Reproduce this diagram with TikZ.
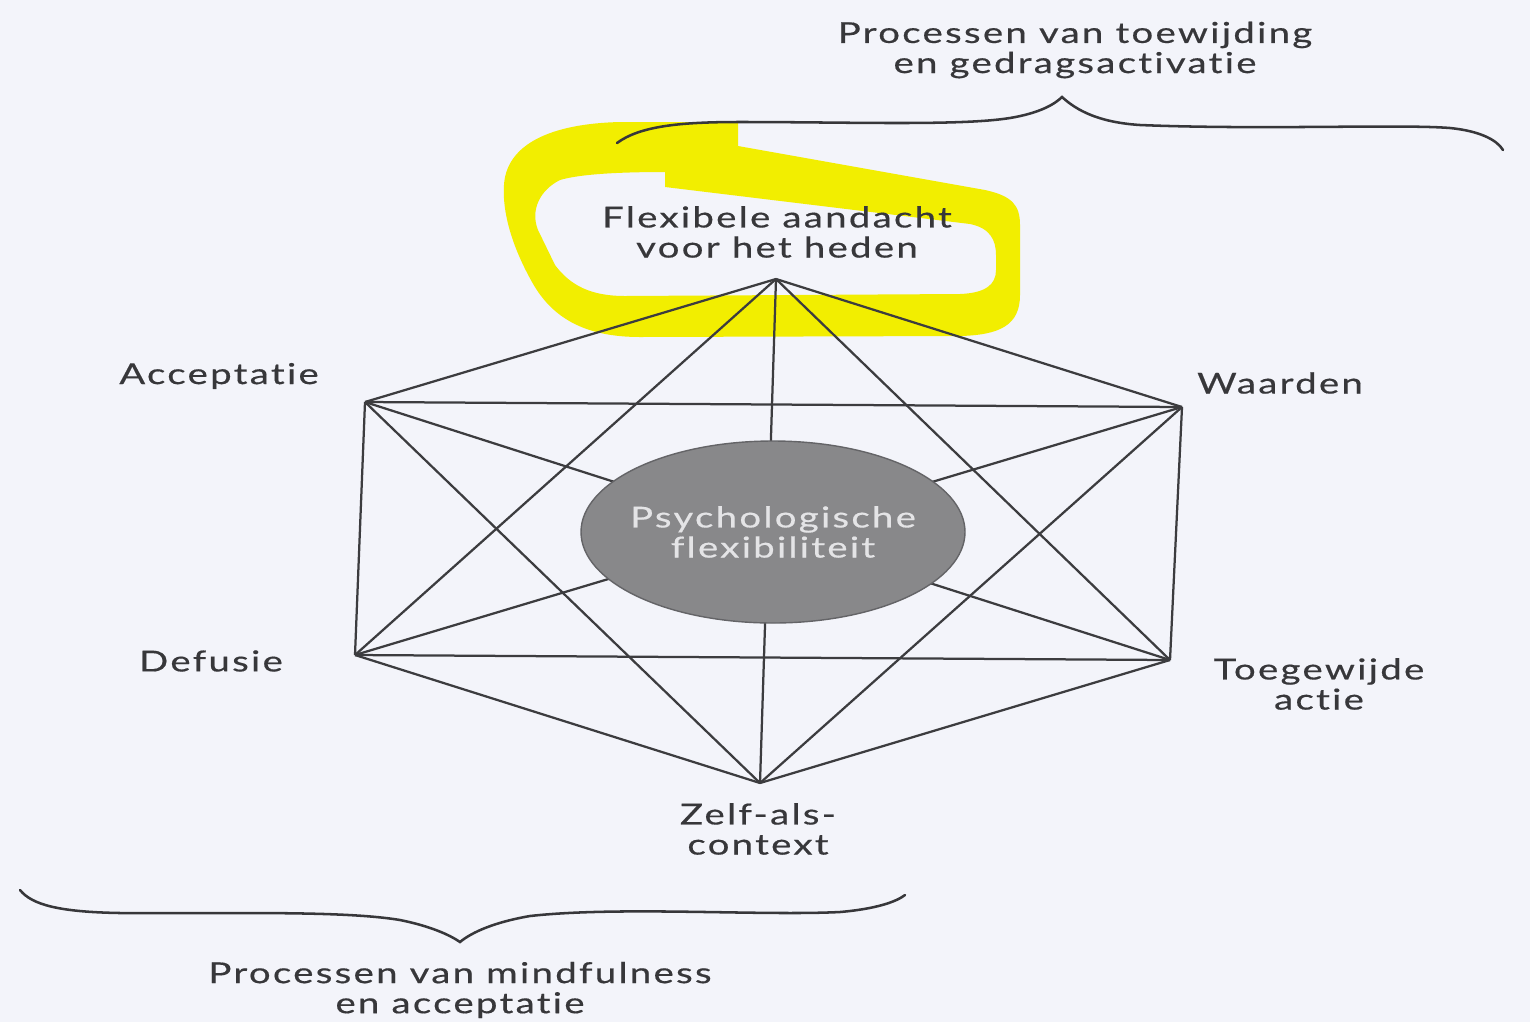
\documentclass[tikz,border=0pt]{standalone}
\usepackage{fontspec}
\setmainfont{Lato}[FakeStretch=1.33,LetterSpace=8,FakeBold=0.5,Ligatures={NoCommon}]
\definecolor{paper}{RGB}{243,244,250}
\definecolor{inkc}{RGB}{55,55,58}
\definecolor{linec}{RGB}{60,60,63}
\definecolor{hilite}{RGB}{242,238,0}
\definecolor{corefill}{RGB}{136,136,138}
\definecolor{coreline}{RGB}{100,100,103}
\definecolor{coretext}{RGB}{228,228,230}
\begin{document}
\begin{tikzpicture}[x=0.025cm,y=-0.025cm,
  lbl/.style={font=\fontsize{20.5pt}{21.4pt}\selectfont, text=inkc, align=center, inner sep=0pt},
  edge/.style={draw=linec, line width=1.6pt},
  brace/.style={draw=inkc, line width=1.8pt, line cap=round}]

% page
\fill[paper] (0,0) rectangle (1530,1022);
\useasboundingbox (0,0) rectangle (1530,1022);

% highlighter loop round the top label (outer rim, then the hole)
\fill[hilite, even odd rule]
  (738,122) -- (738,146) -- (985,190) .. controls (1012,196) and (1020,205) .. (1020,225)
  -- (1020,295) .. controls (1020,325) and (1000,335) .. (960,336) -- (640,337)
  .. controls (585,337) and (552,318) .. (532,282) .. controls (514,250) and (502,215) .. (504,185)
  .. controls (506,150) and (540,124) .. (620,122) -- cycle
  (665,172) -- (665,187) -- (970,224) .. controls (990,228) and (996,240) .. (996,255)
  -- (996,270) .. controls (996,285) and (985,293) .. (960,294) -- (625,296)
  .. controls (590,296) and (570,285) .. (555,265) -- (538,230)
  .. controls (530,210) and (540,190) .. (560,180) .. controls (580,174) and (620,172) .. (665,172) -- cycle;

% hexagon corners
\coordinate (T)  at (776,279);
\coordinate (UL) at (365,402);
\coordinate (UR) at (1182,407);
\coordinate (LL) at (355,655);
\coordinate (LR) at (1170,660);
\coordinate (B)  at (760,783);

% every corner joined to every other
\foreach \a/\b in {T/UL,T/UR,T/LL,T/LR,T/B,UL/UR,UL/LL,UL/LR,UL/B,UR/LL,UR/LR,UR/B,LL/LR,LL/B,LR/B}
  \draw[edge] (\a) -- (\b);

% centre disc and its words
\path[fill=corefill, draw=coreline, line width=1pt] (773,532) ellipse [x radius=192, y radius=91];
\node[font=\fontsize{20.5pt}{21.4pt}\selectfont, text=coretext, align=center, inner sep=0pt]
  (core) at (773,532) {Psychologische\\flexibiliteit};

% labels
\node[lbl] (heden) at (777,232) {Flexibele aandacht\\voor het heden};
\node[lbl] (accept) at (219,376) {Acceptatie};
\node[lbl] (waarden) at (1280,383) {Waarden};
\node[lbl] (defusie) at (211,661) {Defusie};
\node[lbl] (actie) at (1319,684) {Toegewijde\\actie};
\node[lbl] (zelf) at (758,829) {Zelf-als-\\context};
\node[lbl] (toew) at (1075,50) {Processen van toewijding\\en gedragsactivatie};
\node[lbl] (mind) at (460,990) {Processen van mindfulness\\en acceptatie};

% braces
\draw[brace] (617,143) .. controls (640,126) and (680,122) .. (740,122)
  .. controls (850,122) and (960,126) .. (1010,118)
  .. controls (1040,113) and (1055,104) .. (1062,97)
  .. controls (1072,106) and (1092,122) .. (1140,125)
  .. controls (1260,130) and (1400,124) .. (1450,128)
  .. controls (1480,131) and (1497,140) .. (1503,150);
\draw[brace] (20,890) .. controls (32,905) and (60,912) .. (120,913)
  .. controls (220,914) and (340,910) .. (400,920)
  .. controls (430,926) and (450,935) .. (460,942)
  .. controls (472,932) and (495,922) .. (530,916)
  .. controls (620,906) and (760,916) .. (840,912)
  .. controls (875,909) and (896,902) .. (905,895);
\end{tikzpicture}
\end{document}
